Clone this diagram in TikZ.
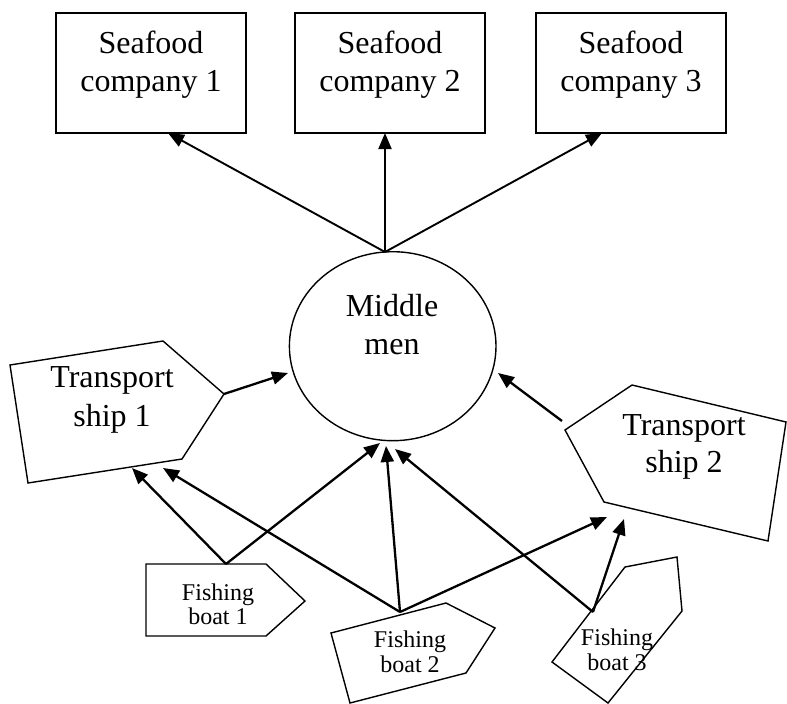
\documentclass[tikz,border=0pt]{standalone}
\usepackage{fontspec}
\setmainfont{Liberation Serif}
\usetikzlibrary{arrows.meta,shapes.geometric}
\begin{document}
\begin{tikzpicture}[x=1pt,y=-1pt,
  outline/.style={line width=1.4pt, line join=miter},
  flow/.style={line width=2.3pt, -{Triangle[length=16pt,width=13pt]}},
  upflow/.style={line width=1.9pt, -{Triangle[length=16pt,width=13pt]}},
  bigtext/.style={font=\fontsize{32}{38}\selectfont, inner sep=0pt, anchor=base},
  smalltext/.style={font=\fontsize{24}{25}\selectfont, inner sep=0pt, anchor=base},
  company/.style={draw, outline, minimum width=190pt, minimum height=120pt, inner sep=0pt},
]
\useasboundingbox (0,0) rectangle (787,704);

% seafood companies
\node[company] (c1) at (151,73) {};
\node[company] (c2) at (390,73) {};
\node[company] (c3) at (631,73) {};
\node[bigtext] (c1a) at (151,53) {Seafood};
\node[bigtext] (c1b) at (151,91) {company 1};
\node[bigtext] (c2a) at (390,53) {Seafood};
\node[bigtext] (c2b) at (390,91) {company 2};
\node[bigtext] (c3a) at (631,53) {Seafood};
\node[bigtext] (c3b) at (631,91) {company 3};

% middle men
\node[draw, outline, ellipse, minimum width=206.6pt, minimum height=189pt, inner sep=0pt] (mm) at (392.7,346.2) {};
\node[bigtext] (mma) at (392,316) {Middle};
\node[bigtext] (mmb) at (392,354) {men};

% transport ships
\draw[outline] (10,365) -- (163,341) -- (224,394) -- (182,459) -- (28,483) -- cycle;
\node[bigtext] (s1a) at (112,387) {Transport};
\node[bigtext] (s1b) at (112,426) {ship 1};
\draw[outline] (565,430) -- (632,385) -- (786,422) -- (768,541) -- (604,502) -- cycle;
\node[bigtext] (s2a) at (684,435) {Transport};
\node[bigtext] (s2b) at (684,472) {ship 2};

% fishing boats
\draw[outline] (146,564) -- (266,564) -- (305,601) -- (266,636) -- (146,636) -- cycle;
\node[smalltext] (b1a) at (218,600) {Fishing};
\node[smalltext] (b1b) at (218,624) {boat 1};
\draw[outline] (331,633) -- (446,603) -- (495,628) -- (466,673) -- (350,703) -- cycle;
\node[smalltext] (b2a) at (410,647) {Fishing};
\node[smalltext] (b2b) at (410,672) {boat 2};
\draw[outline] (625,567) -- (677,557) -- (682,611) -- (608,703) -- (552,662) -- cycle;
\node[smalltext] (b3a) at (617,645) {Fishing};
\node[smalltext] (b3b) at (617,670) {boat 3};

% connector ends
\coordinate (mmtop) at (385,252);
\coordinate (c1in) at (168,133);
\coordinate (c2in) at (385,133);
\coordinate (c3in) at (602,133);
\coordinate (s1out) at (224,394);
\coordinate (mmleft) at (288,373);
\coordinate (s2out) at (562,421);
\coordinate (mmright) at (498,373);
\coordinate (b1top) at (226,564);
\coordinate (b2top) at (400,612);
\coordinate (b3top) at (593,612);
\coordinate (s1in1) at (132,468);
\coordinate (s1in2) at (163,468);
\coordinate (mmbot1) at (380,443);
\coordinate (mmbot2) at (386,446);
\coordinate (mmbot3) at (395,449);
\coordinate (s2in1) at (607,517);
\coordinate (s2in2) at (624,519);

% flows
\draw[upflow] (mmtop) -- (c1in);
\draw[upflow] (mmtop) -- (c2in);
\draw[upflow] (mmtop) -- (c3in);
\draw[flow] (s1out) -- (mmleft);
\draw[flow] (s2out) -- (mmright);
\draw[flow] (b1top) -- (s1in1);
\draw[flow] (b1top) -- (mmbot1);
\draw[flow] (b2top) -- (s1in2);
\draw[flow] (b2top) -- (mmbot2);
\draw[flow] (b2top) -- (s2in1);
\draw[flow] (b3top) -- (mmbot3);
\draw[flow] (b3top) -- (s2in2);
\end{tikzpicture}
\end{document}
